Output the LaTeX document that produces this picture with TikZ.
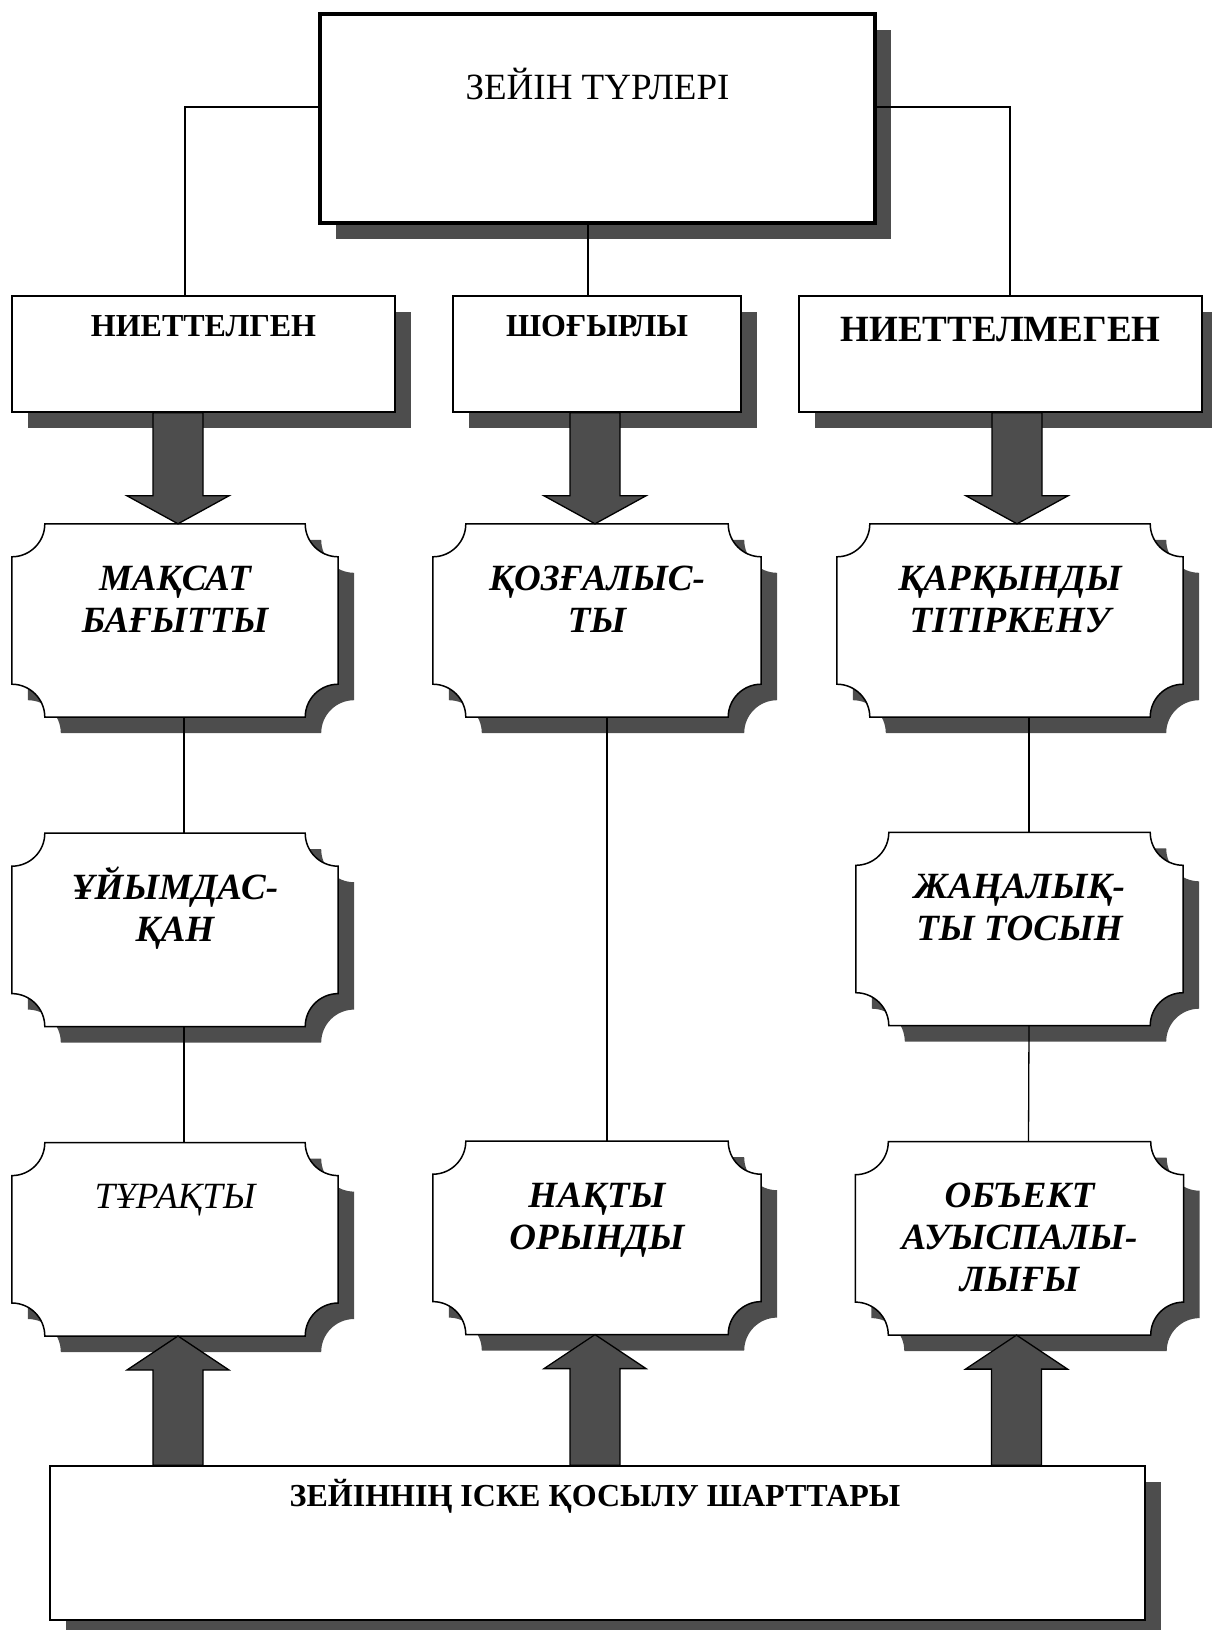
\documentclass[tikz,border=0pt]{standalone}
\usepackage{fontspec}
\setmainfont{Liberation Serif}
\usepackage{tikz}
\usetikzlibrary{positioning,backgrounds,shadows,calc}
\definecolor{shadowgray}{HTML}{4D4D4D}

\newcommand{\capstrut}{\rule{0pt}{1em}}
\newcommand{\plaquepath}[1]{([xshift=33pt]#1.north west) -- ([xshift=-33pt]#1.north east)
  arc[start angle=180, end angle=270, radius=33pt] -- ([yshift=33pt]#1.south east)
  arc[start angle=90, end angle=180, radius=33pt] -- ([xshift=33pt]#1.south west)
  arc[start angle=0, end angle=90, radius=33pt] -- ([yshift=-33pt]#1.north west)
  arc[start angle=270, end angle=360, radius=33pt] -- cycle}
\newcommand{\blockarrow}[3]{\draw[barrow] let \p1=(#1), \p2=(#2) in
  (\x2-25pt,\y1) -- (\x2+25pt,\y1) -- (\x2+25pt,{\y2+(#3)}) -- (\x2+51pt,{\y2+(#3)})
  -- (\x2,\y2) -- (\x2-51pt,{\y2+(#3)}) -- (\x2-25pt,{\y2+(#3)}) -- cycle;}

\begin{document}
\begin{tikzpicture}[
  x=1pt, y=1pt,
  boxshadow/.style={drop shadow={shadow xshift=16pt, shadow yshift=-16pt, fill=shadowgray, opacity=1}},
  box/.style={draw, line width=1.5pt, fill=white, minimum height=116pt, boxshadow},
  topbox/.style={draw, line width=4.5pt, fill=white, boxshadow},
  plaque/.style={minimum width=326pt, minimum height=193pt, inner sep=0pt},
  plaquetxt/.style={anchor=north, inner sep=0pt, align=center, font=\fontsize{37pt}{42pt}\selectfont\bfseries\itshape},
  boxtxt/.style={anchor=north, inner sep=0pt, font=\fontsize{32pt}{38pt}\selectfont\bfseries},
  conn/.style={line width=1.3pt},
  barrow/.style={draw, fill=shadowgray, line width=1.3pt}
]
\useasboundingbox (0,0) rectangle (1211,-1630);

\node[topbox, minimum width=555pt, minimum height=209pt] (zt) at (597.5,-118.5) {};
\node[box, minimum width=383pt] (niet) at (203.5,-354) {};
\node[box, minimum width=288pt] (shog) at (597,-354) {};
\node[box, minimum width=403pt] (nietm) at (1000.5,-354) {};
\node[plaque] (mak) at (175,-620.5) {};
\node[plaque, minimum width=328pt] (koz) at (597,-620.5) {};
\node[plaque, minimum width=346pt] (kark) at (1010,-620.5) {};
\node[plaque, below=116pt of mak] (uyim) {};
\node[plaque, minimum width=327pt] (jan) at (1019.5,-929) {};
\node[plaque, below=116pt of uyim] (tur) {};
\node[plaque, minimum width=328pt, below=424pt of koz] (nak) {};
\node[plaque, minimum width=328pt, below=116pt of jan] (obj) {};
\node[box, minimum width=1095pt, minimum height=154pt] (shart) at (597.5,-1543) {};

\begin{scope}[on background layer]
\foreach \pl in {mak,koz,kark,uyim,jan,tur,nak,obj}{
  \begin{scope}[transform canvas={shift={(16pt,-16pt)}}]
    \fill[shadowgray] \plaquepath{\pl};
  \end{scope}
  \filldraw[fill=white, line width=1.5pt] \plaquepath{\pl};
}
\end{scope}

\node[anchor=north, inner sep=0pt, font=\fontsize{37pt}{42pt}\selectfont] (ztt) at ([yshift=-51pt]zt.north) {\capstrut ЗЕЙІН ТҮРЛЕРІ};
\node[boxtxt] (niett) at ([yshift=-9pt]niet.north) {\capstrut НИЕТТЕЛГЕН};
\node[boxtxt] (shogt) at ([yshift=-9pt]shog.north) {\capstrut ШОҒЫРЛЫ};
\node[boxtxt, font=\fontsize{37pt}{42pt}\selectfont\bfseries] (nietmt) at ([yshift=-9pt]nietm.north) {\capstrut НИЕТТЕЛМЕГЕН};
\node[plaquetxt] (makt) at ([yshift=-29pt]mak.north) {\capstrut МАҚСАТ\\БАҒЫТТЫ};
\node[plaquetxt] (kozt) at ([yshift=-29pt]koz.north) {\capstrut ҚОЗҒАЛЫС-\\ТЫ};
\node[plaquetxt] (karkt) at ([yshift=-29pt]kark.north) {\capstrut ҚАРҚЫНДЫ\\ТІТІРКЕНУ};
\node[plaquetxt] (uyimt) at ([yshift=-29pt]uyim.north) {\capstrut ҰЙЫМДАС-\\ҚАН};
\node[plaquetxt] (jant) at ([yshift=-29pt]jan.north) {\capstrut ЖАҢАЛЫҚ-\\ТЫ ТОСЫН};
\node[plaquetxt, font=\fontsize{37pt}{42pt}\selectfont\itshape] (turt) at ([yshift=-29pt]tur.north) {\capstrut ТҰРАҚТЫ};
\node[plaquetxt] (nakt) at ([yshift=-29pt]nak.north) {\capstrut НАҚТЫ\\ОРЫНДЫ};
\node[plaquetxt] (objt) at ([yshift=-29pt]obj.north) {\capstrut ОБЪЕКТ\\АУЫСПАЛЫ-\\ЛЫҒЫ};
\node[boxtxt] (shartt) at ([xshift=-2.5pt,yshift=-9pt]shart.north) {\capstrut ЗЕЙІННІҢ ІСКЕ ҚОСЫЛУ ШАРТТАРЫ};

\draw[conn] ([yshift=11.5pt]zt.west) -| ([xshift=-18.5pt]niet.north);
\draw[conn] ([yshift=11.5pt]zt.east) -| ([xshift=9.5pt]nietm.north);
\draw[conn] ([xshift=-9.5pt]zt.south) -- ([xshift=-9pt]shog.north);
\draw[conn] ([xshift=9pt]mak.south) -- ([xshift=9pt]uyim.north);
\draw[conn] ([xshift=9pt]uyim.south) -- ([xshift=9pt]tur.north);
\draw[conn] ([xshift=10pt]koz.south) -- ([xshift=10pt]nak.north);
\draw[conn] ([xshift=19pt]kark.south) -- ([xshift=9.5pt]jan.north);
\draw[conn] ([xshift=9.5pt]jan.south) -- ([xshift=9pt]obj.north);

\blockarrow{niet.south}{[xshift=3pt]mak.north}{28pt}
\blockarrow{shog.south}{[xshift=-2pt]koz.north}{28pt}
\blockarrow{nietm.south}{[xshift=7pt]kark.north}{28pt}
\blockarrow{shart.north}{[xshift=3pt]tur.south}{-34pt}
\blockarrow{shart.north}{[xshift=-2pt]nak.south}{-34pt}
\blockarrow{shart.north}{[xshift=-3pt]obj.south}{-34pt}
\end{tikzpicture}
\end{document}
